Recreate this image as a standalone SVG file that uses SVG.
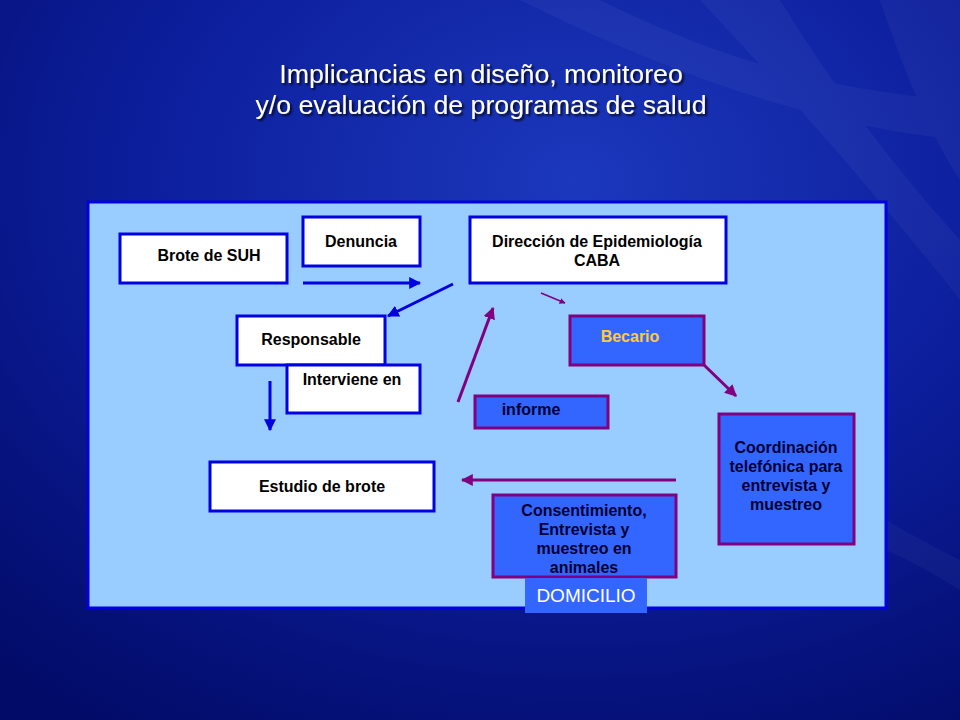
<svg xmlns="http://www.w3.org/2000/svg" width="960" height="720" viewBox="0 0 960 720">
<defs>
<radialGradient id="bg" cx="0.6" cy="0.25" r="0.9">
<stop offset="0" stop-color="#1c38bc"/>
<stop offset="0.5" stop-color="#0c1e9c"/>
<stop offset="1" stop-color="#020b68"/>
</radialGradient>
<marker id="ab" viewBox="0 0 10 10" refX="9" refY="5" markerWidth="4" markerHeight="4" orient="auto"><path d="M0,0 L10,5 L0,10 z" fill="#0000e0"/></marker>
<marker id="ap" viewBox="0 0 10 10" refX="9" refY="5" markerWidth="4" markerHeight="4" orient="auto"><path d="M0,0 L10,5 L0,10 z" fill="#800080"/></marker>
<filter id="sh" x="-10%" y="-10%" width="120%" height="130%"><feDropShadow dx="2" dy="2" stdDeviation="1" flood-color="#000" flood-opacity="0.8"/></filter>
<style>
.t{font-family:"Liberation Sans",Arial,sans-serif;font-weight:bold;font-size:16px;fill:#000;text-anchor:middle}
.d{fill:#000033}
.w{fill:#fff;stroke:#0000e0;stroke-width:3}
.p{fill:#3366ff;stroke:#800080;stroke-width:3}
.cb{stroke:#0000e0;stroke-width:3;fill:none;marker-end:url(#ab)}
.cp{stroke:#800080;stroke-width:3;fill:none;marker-end:url(#ap)}
</style>
</defs>
<rect width="960" height="720" fill="url(#bg)"/>
<g fill="#ffffff" opacity="0.035">
<path d="M520,0 Q760,120 960,140 L960,100 Q780,90 600,0 z"/>
<path d="M700,0 Q850,160 960,300 L960,240 Q860,130 780,0 z"/>
<path d="M880,0 Q920,120 960,180 L960,0 z"/>
<path d="M886,520 Q920,540 960,560 L960,590 Q920,565 886,550 z"/>
</g>
<g id="title" font-family="'Liberation Sans',Arial,sans-serif" font-size="26.7" fill="#fff" text-anchor="middle" filter="url(#sh)">
<text x="481" y="83">Implicancias en diseño, monitoreo</text>
<text x="481" y="114">y/o evaluación de programas de salud</text>
</g>
<rect id="panel" x="88" y="202" width="798" height="406" fill="#99ccff" stroke="#0000e0" stroke-width="3"/>
<g id="connectors">
<line class="cb" x1="303" y1="283" x2="420" y2="283"/>
<line class="cb" x1="453" y1="284" x2="388" y2="316"/>
<line class="cb" x1="270" y1="381" x2="270" y2="430"/>
<line class="cp" x1="458" y1="402" x2="493" y2="308"/>
<line stroke="#800080" stroke-width="1.5" marker-end="url(#ap)" x1="541" y1="293" x2="565" y2="303" style="fill:none"/>
<line class="cp" x1="704" y1="365" x2="736" y2="396"/>
<line class="cp" x1="676" y1="480" x2="462" y2="480"/>
</g>
<g id="brote"><rect class="w" x="120" y="234" width="167" height="49"/><text class="t" x="209" y="261">Brote de SUH</text></g>
<g id="denuncia"><rect class="w" x="303" y="217" width="117" height="49"/><text class="t" x="361" y="247">Denuncia</text></g>
<g id="direccion"><rect class="w" x="470" y="217" width="256" height="66"/><text class="t" x="597" y="247">Dirección de Epidemiología</text><text class="t" x="597" y="266">CABA</text></g>
<g id="responsable"><rect class="w" x="237" y="316" width="148" height="49"/><text class="t" x="311" y="345">Responsable</text></g>
<g id="interviene"><rect class="w" x="287" y="365" width="133" height="48"/><text class="t" x="352" y="385">Interviene en</text></g>
<g id="informe"><rect class="p" x="475" y="396" width="133" height="32"/><text class="t d" x="531" y="415">informe</text></g>
<g id="becario"><rect class="p" x="570" y="316" width="134" height="49"/><text class="t" x="630" y="342" style="fill:#ffcc33">Becario</text></g>
<g id="coordinacion"><rect class="p" x="719" y="414" width="135" height="130"/><text class="t d" x="786" y="453">Coordinación</text><text class="t d" x="786" y="472">telefónica para</text><text class="t d" x="786" y="491">entrevista y</text><text class="t d" x="786" y="510">muestreo</text></g>
<g id="estudio"><rect class="w" x="210" y="462" width="224" height="49"/><text class="t" x="322" y="492">Estudio de brote</text></g>
<g id="consentimiento"><rect class="p" x="493" y="495" width="183" height="82"/><text class="t d" x="584" y="516">Consentimiento,</text><text class="t d" x="584" y="535">Entrevista y</text><text class="t d" x="584" y="554">muestreo en</text><text class="t d" x="584" y="573">animales</text></g>
<g id="domicilio"><rect x="525" y="578" width="122" height="35" fill="#3366ff"/><text x="586" y="602" font-family="'Liberation Sans',Arial,sans-serif" font-size="19" fill="#fff" text-anchor="middle">DOMICILIO</text></g>
</svg>
